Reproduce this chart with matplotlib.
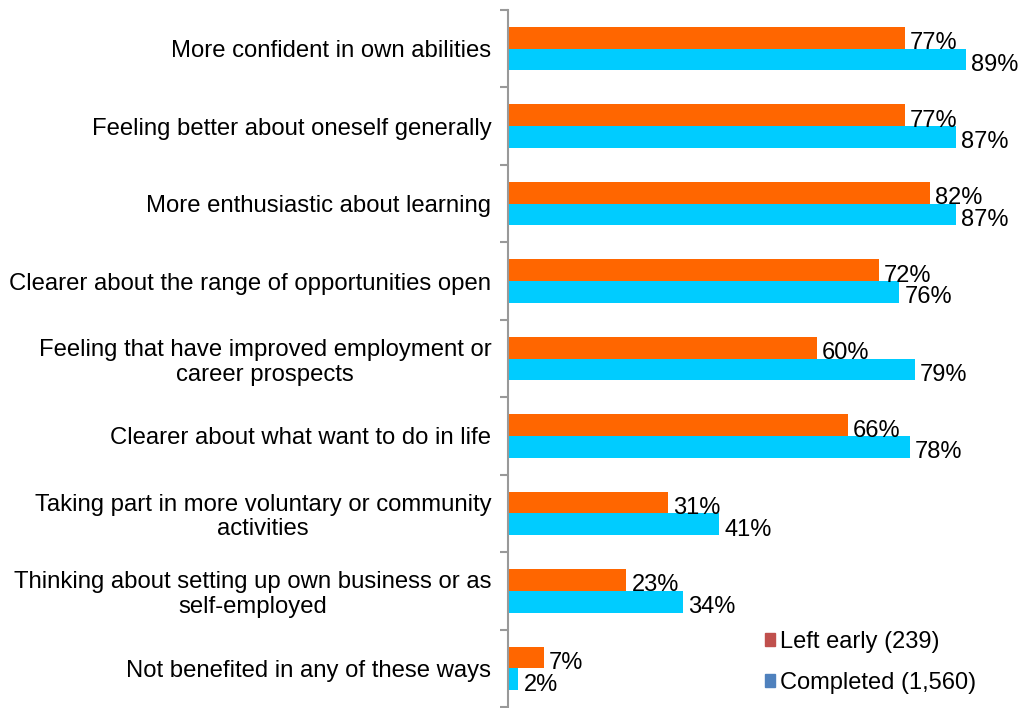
import matplotlib.pyplot as plt
import numpy as np
from matplotlib.patches import Patch

plt.rcParams['font.family'] = ['Liberation Sans', 'DejaVu Sans']

categories = [
    "More confident in own abilities",
    "Feeling better about oneself generally",
    "More enthusiastic about learning",
    "Clearer about the range of opportunities open",
    "Feeling that have improved employment or\ncareer prospects",
    "Clearer about what want to do in life",
    "Taking part in more voluntary or community\nactivities",
    "Thinking about setting up own business or as\nself-employed",
    "Not benefited in any of these ways",
]
left_early = [77, 77, 82, 72, 60, 66, 31, 23, 7]
completed = [89, 87, 87, 76, 79, 78, 41, 34, 2]

fig = plt.figure(figsize=(10.24, 7.08), dpi=100)
ax = fig.add_axes([508/1024, 1/708, 515/1024, 697/708])

y = np.arange(len(categories))
h = 0.28
ax.barh(y - h/2, left_early, height=h, color='#FF6600')
ax.barh(y + h/2, completed, height=h, color='#00CCFF')

for i in range(len(categories)):
    ax.text(left_early[i] + 1.0, y[i] - h/2 + 0.07, f"{left_early[i]}%", va='center', ha='left', fontsize=17)
    ax.text(completed[i] + 1.0, y[i] + h/2 + 0.07, f"{completed[i]}%", va='center', ha='left', fontsize=17)

ax.set_xlim(0, 100)
ax.set_ylim(len(categories) - 0.5, -0.5)
ax.set_yticks(y)
ax.set_yticklabels(categories, fontsize=17.2, ha='right', multialignment='center', linespacing=1.15)
ax.tick_params(axis='y', which='major', length=0, pad=12)
ax.set_yticks(np.arange(-0.5, len(categories), 1), minor=True)
ax.tick_params(axis='y', which='minor', length=6, color='#999999', width=1.5)
ax.set_xticks([])
for s in ['top', 'right', 'bottom']:
    ax.spines[s].set_visible(False)
ax.spines['left'].set_color('#999999')
ax.spines['left'].set_linewidth(1.5)

handles = [Patch(color='#C0504D', label='Left early (239)'),
           Patch(color='#4F81BD', label='Completed (1,560)')]
ax.legend(handles=handles, loc='lower right', bbox_to_anchor=(0.95, -0.012), frameon=False,
          fontsize=17, handlelength=0.45, handleheight=0.45, handletextpad=0.2, labelspacing=0.8)

fig.savefig('out.png', dpi=100)
